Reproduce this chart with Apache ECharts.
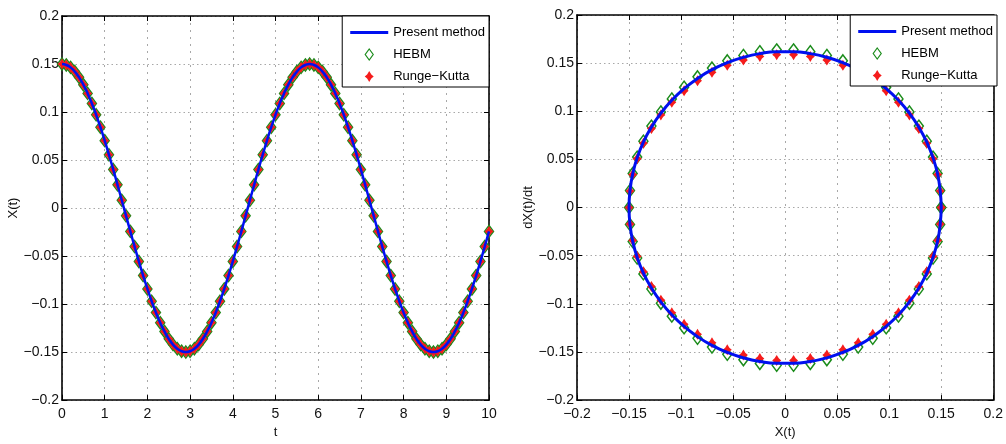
<!DOCTYPE html>
<html>
<head>
<meta charset="utf-8">
<script src="https://cdn.jsdelivr.net/npm/echarts@6/dist/echarts.min.js"></script>
<style>
  html, body { margin: 0; padding: 0; background: #fff; }
  #chart { width: 1006px; height: 444px; }
</style>
</head>
<body>
<div id="chart"></div>
<script>
// time samples (left panel x axis)
const tVals = [
  0, 0.1, 0.2, 0.3, 0.4, 0.5, 0.6, 0.7, 0.8, 0.9,
  1, 1.1, 1.2, 1.3, 1.4, 1.5, 1.6, 1.7, 1.8, 1.9,
  2, 2.1, 2.2, 2.3, 2.4, 2.5, 2.6, 2.7, 2.8, 2.9,
  3, 3.1, 3.2, 3.3, 3.4, 3.5, 3.6, 3.7, 3.8, 3.9,
  4, 4.1, 4.2, 4.3, 4.4, 4.5, 4.6, 4.7, 4.8, 4.9,
  5, 5.1, 5.2, 5.3, 5.4, 5.5, 5.6, 5.7, 5.8, 5.9,
  6, 6.1, 6.2, 6.3, 6.4, 6.5, 6.6, 6.7, 6.8, 6.9,
  7, 7.1, 7.2, 7.3, 7.4, 7.5, 7.6, 7.7, 7.8, 7.9,
  8, 8.1, 8.2, 8.3, 8.4, 8.5, 8.6, 8.7, 8.8, 8.9,
  9, 9.1, 9.2, 9.3, 9.4, 9.5, 9.6, 9.7, 9.8, 9.9,
  10
]
// X(t) (the three methods overlap there)
const xLeft = [
  0.15, 0.149, 0.1465, 0.1421, 0.1361, 0.1285, 0.1194, 0.1089, 0.0971, 0.0842,
  0.0702, 0.0555, 0.0401, 0.0242, 0.0081, -0.0081, -0.0243, -0.0401, -0.0556, -0.0703,
  -0.0842, -0.0971, -0.1089, -0.1194, -0.1285, -0.1362, -0.1422, -0.1465, -0.1491, -0.15,
  -0.1491, -0.1465, -0.1422, -0.1362, -0.1285, -0.1194, -0.1089, -0.0971, -0.0842, -0.0703,
  -0.0556, -0.0401, -0.0243, -0.0081, 0.0081, 0.0242, 0.0401, 0.0555, 0.0702, 0.0842,
  0.0971, 0.1089, 0.1194, 0.1285, 0.1361, 0.1421, 0.1465, 0.149, 0.15, 0.149,
  0.1465, 0.1421, 0.1361, 0.1285, 0.1194, 0.1089, 0.0971, 0.0842, 0.0702, 0.0555,
  0.0401, 0.0242, 0.0081, -0.0081, -0.0243, -0.0401, -0.0556, -0.0703, -0.0842, -0.0971,
  -0.1089, -0.1194, -0.1285, -0.1362, -0.1422, -0.1465, -0.1491, -0.15, -0.1491, -0.1465,
  -0.1422, -0.1362, -0.1285, -0.1194, -0.1089, -0.0971, -0.0842, -0.0703, -0.0556, -0.0401,
  -0.0243
]
// phase plane: one period (first 59 samples of X), dX/dt per method
const phaseX = xLeft.slice(0, 59)
const phaseV = [
  0, -0.0175, -0.0348, -0.0517, -0.068, -0.0835, -0.098, -0.1114, -0.1235, -0.1341,
  -0.1432, -0.1505, -0.1561, -0.1599, -0.1618, -0.1618, -0.1599, -0.1561, -0.1505, -0.1432,
  -0.1341, -0.1235, -0.1114, -0.098, -0.0835, -0.068, -0.0517, -0.0348, -0.0175, 0,
  0.0175, 0.0348, 0.0517, 0.068, 0.0835, 0.098, 0.1114, 0.1235, 0.1341, 0.1432,
  0.1505, 0.1561, 0.1599, 0.1618, 0.1618, 0.1599, 0.1561, 0.1505, 0.1432, 0.1341,
  0.1235, 0.1114, 0.098, 0.0835, 0.068, 0.0517, 0.0348, 0.0175, 0
]
const phaseVHebm = [
  0, -0.0177, -0.0353, -0.0524, -0.0689, -0.0846, -0.0993, -0.1128, -0.125, -0.1358,
  -0.1449, -0.1524, -0.158, -0.1619, -0.1638, -0.1638, -0.1619, -0.158, -0.1524, -0.1449,
  -0.1358, -0.125, -0.1128, -0.0993, -0.0846, -0.0689, -0.0524, -0.0353, -0.0177, 0,
  0.0177, 0.0353, 0.0524, 0.0689, 0.0846, 0.0993, 0.1128, 0.125, 0.1358, 0.1449,
  0.1524, 0.158, 0.1619, 0.1638, 0.1638, 0.1619, 0.158, 0.1524, 0.1449, 0.1358,
  0.125, 0.1128, 0.0993, 0.0846, 0.0689, 0.0524, 0.0353, 0.0177, 0
]
const phaseVRk = [
  0, -0.0172, -0.0342, -0.0508, -0.0668, -0.082, -0.0962, -0.1093, -0.1212, -0.1316,
  -0.1405, -0.1477, -0.1532, -0.1569, -0.1588, -0.1588, -0.1569, -0.1532, -0.1477, -0.1405,
  -0.1316, -0.1212, -0.1093, -0.0962, -0.082, -0.0668, -0.0508, -0.0342, -0.0172, 0,
  0.0172, 0.0342, 0.0508, 0.0668, 0.082, 0.0962, 0.1093, 0.1212, 0.1316, 0.1405,
  0.1477, 0.1532, 0.1569, 0.1588, 0.1588, 0.1569, 0.1532, 0.1477, 0.1405, 0.1316,
  0.1212, 0.1093, 0.0962, 0.082, 0.0668, 0.0508, 0.0342, 0.0172, 0
]
// axis ticks
const tTicks = [0, 10, 1]
const valTicks = [-0.2, 0.2, 0.05]
const seriesNames = ['Present method', 'HEBM', 'Runge\u2212Kutta']

const font = 'Liberation Sans, Arial, sans-serif'
const blue = '#0010f0'
const green = '#1b8c1b'
const red = '#f51c1c'
const starPath = 'path://M4.5,0L6.6,3.4L9,5.5L6.6,7.6L4.5,11L2.4,7.6L0,5.5L2.4,3.4Z'

const fmt = v => String(Math.round(v * 100) / 100).replace('-', '\u2212')
const pairs = (xs, ys) => xs.map((x, i) => [x, ys[i]])

const mainAxis = (gridIndex, ticks, name, nameGap, isY, dash) => ({
  gridIndex, type: 'value', min: ticks[0], max: ticks[1], interval: ticks[2],
  name, nameLocation: 'middle', nameGap,
  nameTextStyle: { color: '#111', fontSize: 13, fontFamily: font },
  axisLine: { onZero: false, lineStyle: { color: '#000', width: 1.6 } },
  axisTick: { inside: true, length: 5, lineStyle: { color: '#000' } },
  axisLabel: { margin: isY ? 3 : 7, color: '#111', fontSize: 14, fontFamily: font, formatter: fmt },
  splitLine: { show: true, lineStyle: { color: '#a8a8a8', width: 1, type: dash } }
})
const sideAxis = (gridIndex, ticks, position) => ({
  gridIndex, type: 'value', position, min: ticks[0], max: ticks[1], interval: ticks[2],
  axisLine: { onZero: false, lineStyle: { color: '#000', width: 1.6 } },
  axisTick: { inside: true, length: 5, lineStyle: { color: '#000' } },
  axisLabel: { show: false },
  splitLine: { show: false }
})

const legendFor = (right, top) => ({
  orient: 'vertical', right, top,
  itemWidth: 38, itemHeight: 11, itemGap: 9,
  padding: [10, 4, 4, 8],
  backgroundColor: '#fff', borderColor: '#000', borderWidth: 1,
  selectedMode: false,
  textStyle: { color: '#000', fontSize: 13, fontFamily: font },
  data: [
    { name: seriesNames[0], icon: 'path://M0,0H38V3H0Z', itemStyle: { color: blue, borderWidth: 0 } },
    { name: seriesNames[1], icon: 'path://M4,0L8,5.5L4,11L0,5.5Z',
      itemStyle: { color: 'rgba(0,0,0,0)', borderColor: green, borderWidth: 1.2 } },
    { name: seriesNames[2], icon: starPath, itemStyle: { color: red, borderWidth: 0 } }
  ],
  z: 10
})

const hebmStyle = { color: 'rgba(0,0,0,0)', borderColor: green, borderWidth: 1.5, opacity: 1 }
const rkStyle = { color: red, opacity: 1 }

const chart = echarts.init(document.getElementById('chart'))
chart.setOption({
  animation: false,
  backgroundColor: '#fff',
  grid: [
    { left: 62, right: 517, top: 16, bottom: 42 },
    { left: 577, right: 9, top: 15, bottom: 40 }
  ],
  xAxis: [
    mainAxis(0, tTicks, 't', 24, false, [2, 5]),
    sideAxis(0, tTicks, 'top'),
    mainAxis(1, valTicks, 'X(t)', 24, false, [2, 5]),
    sideAxis(1, valTicks, 'top')
  ],
  yAxis: [
    mainAxis(0, valTicks, 'X(t)', 40, true, [1.5, 3]),
    sideAxis(0, valTicks, 'right'),
    mainAxis(1, valTicks, 'dX(t)/dt', 40, true, [1.5, 3]),
    sideAxis(1, valTicks, 'right')
  ],
  legend: [legendFor(517, 16), legendFor(9, 15)],
  series: [
    // left: time history
    {
      name: seriesNames[1], type: 'scatter', xAxisIndex: 0, yAxisIndex: 0,
      data: pairs(tVals, xLeft), symbol: 'diamond', symbolSize: [9, 12], itemStyle: hebmStyle
    },
    {
      name: seriesNames[2], type: 'scatter', xAxisIndex: 0, yAxisIndex: 0,
      data: pairs(tVals, xLeft), symbol: starPath, symbolSize: [9, 11], itemStyle: rkStyle
    },
    {
      name: seriesNames[0], type: 'line', xAxisIndex: 0, yAxisIndex: 0, z: 3,
      data: pairs(tVals, xLeft), symbol: 'none', smooth: true,
      lineStyle: { color: blue, width: 2.5 }, itemStyle: { color: blue }
    },
    // right: phase plane
    {
      name: seriesNames[0], type: 'line', xAxisIndex: 2, yAxisIndex: 2,
      data: pairs(phaseX, phaseV), symbol: 'none', smooth: true,
      lineStyle: { color: blue, width: 3 }, itemStyle: { color: blue }
    },
    {
      name: seriesNames[1], type: 'scatter', xAxisIndex: 2, yAxisIndex: 2,
      data: pairs(phaseX, phaseVHebm), symbol: 'diamond', symbolSize: [9, 12], itemStyle: hebmStyle
    },
    {
      name: seriesNames[2], type: 'scatter', xAxisIndex: 2, yAxisIndex: 2,
      data: pairs(phaseX, phaseVRk), symbol: starPath, symbolSize: [9, 11], itemStyle: rkStyle
    }
  ]
})
</script>
</body>
</html>
